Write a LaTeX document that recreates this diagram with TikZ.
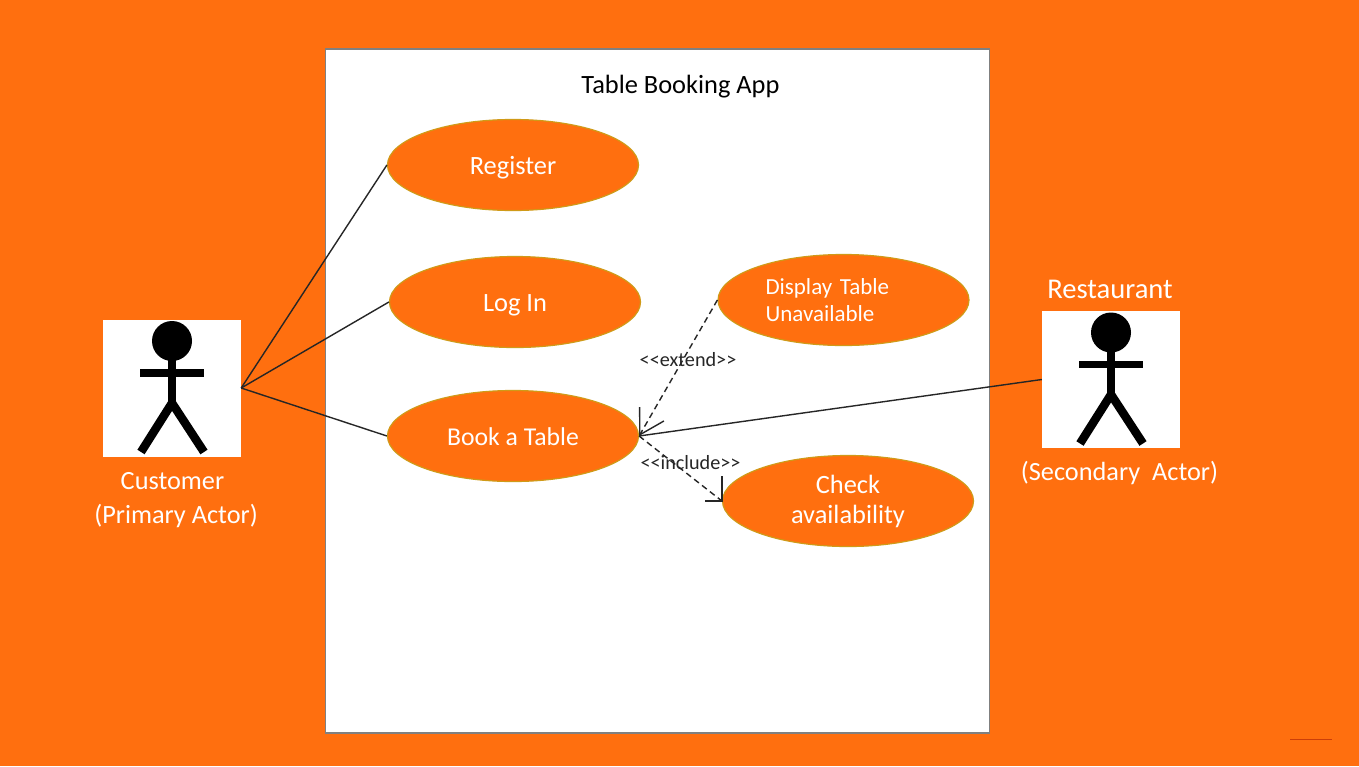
\documentclass[tikz,border=0pt]{standalone}
\usepackage{fontspec}
\setmainfont{Carlito}
\usetikzlibrary{shapes.geometric,arrows.meta}
\definecolor{bg}{HTML}{FF6F0F}
\definecolor{rim}{HTML}{D09A18}
\definecolor{ink}{HTML}{262626}
\tikzset{
  usecase/.style={ellipse,draw=rim,line width=1.2pt,fill=bg,minimum width=251pt,minimum height=91pt,inner sep=0pt,text=white,font=\fontsize{26.4}{30}\selectfont,align=center},
  oneline/.style={text height=18pt,text depth=0pt},
  actorbox/.style={rectangle,fill=white,minimum width=138pt,minimum height=137pt,inner sep=0pt},
  actorname/.style={text=white,font=\fontsize{26.3}{34}\selectfont,align=center,inner sep=0pt},
  conn/.style={draw=ink,line width=1.4pt},
  dep/.style={conn,dash pattern=on 6pt off 4pt},
  barb/.style={-{Straight Barb[length=24pt,width=28pt,line width=1.4pt]}},
  stereo/.style={text=ink,font=\fontsize{20.2}{22}\selectfont,inner sep=0pt},
  limb/.style={draw=black,line width=7.5pt},
  leg/.style={draw=black,line width=8.5pt}
}
\newcommand{\stickman}[1]{%
  \fill[black] (#1)+(0,-47) circle (20pt);
  \draw[limb] (#1)+(0,-47) -- +(0,14);
  \draw[limb] (#1)+(-32,-15) -- +(32,-15);
  \draw[leg] (#1)+(-31,64) -- +(0,15) -- +(32,64);
}
\begin{document}
\begin{tikzpicture}[x=1pt,y=-1pt]
\useasboundingbox (0,0) rectangle (1359,766);
\fill[bg] (0,0) rectangle (1359,766);
\node[rectangle,draw=gray,line width=1.2pt,fill=white,minimum width=664pt,minimum height=684pt,inner sep=0pt] (system) at (657.5,391) {};
\node[text=black,font=\fontsize{26.4}{28}\selectfont,inner sep=0pt] (title) at (680.5,87) {Table Booking App};
\node[usecase,oneline] (register) at (513,165) {Register};
\node[usecase,oneline] (login) at (515,302) {Log In};
\node[usecase,oneline,font=\fontsize{25.7}{30}\selectfont] (book) at (513,436) {Book a Table};
\node[usecase,text width=156pt,align=left,font=\fontsize{23}{27}\selectfont] (display) at (843.5,300) {Display Table\\Unavailable};
\node[usecase] (check) at (848,501) {Check\\availability};
\node[actorbox] (customer) at (172,388) {};
\node[actorbox] (restaurant) at (1111,379.5) {};
\stickman{customer.center}
\stickman{restaurant.center}
\node[actorname] (customerlabel) at (176,500) {Customer\hspace*{7pt}\\(Primary Actor)};
\node[actorname,font=\fontsize{28.6}{34}\selectfont] (restaurantlabel) at (1110,289) {Restaurant};
\node[actorname] (secondary) at (1119.5,473) {(Secondary\ \ Actor)};
\draw[conn] (customer.east) -- (register.west);
\draw[conn] (customer.east) -- (login.west);
\draw[conn] (customer.east) -- (book.west);
\draw[conn] (restaurant.west) -- (book.east);
\draw[dep,barb] (display.west) -- (book.east);
\draw[dep] (book.east) -- (check.west);
\draw[conn] (check.west)+(0,-25) -- (check.west) -- +(-17,0);
\node[stereo] (extend) at (688,360) {<{}<extend>{}>};
\node[stereo] (include) at (690.5,463) {<{}<include>{}>};
\draw[draw=bg!70!red!80!black,line width=1pt] (1290,739) -- (1332,739);
\end{tikzpicture}
\end{document}
